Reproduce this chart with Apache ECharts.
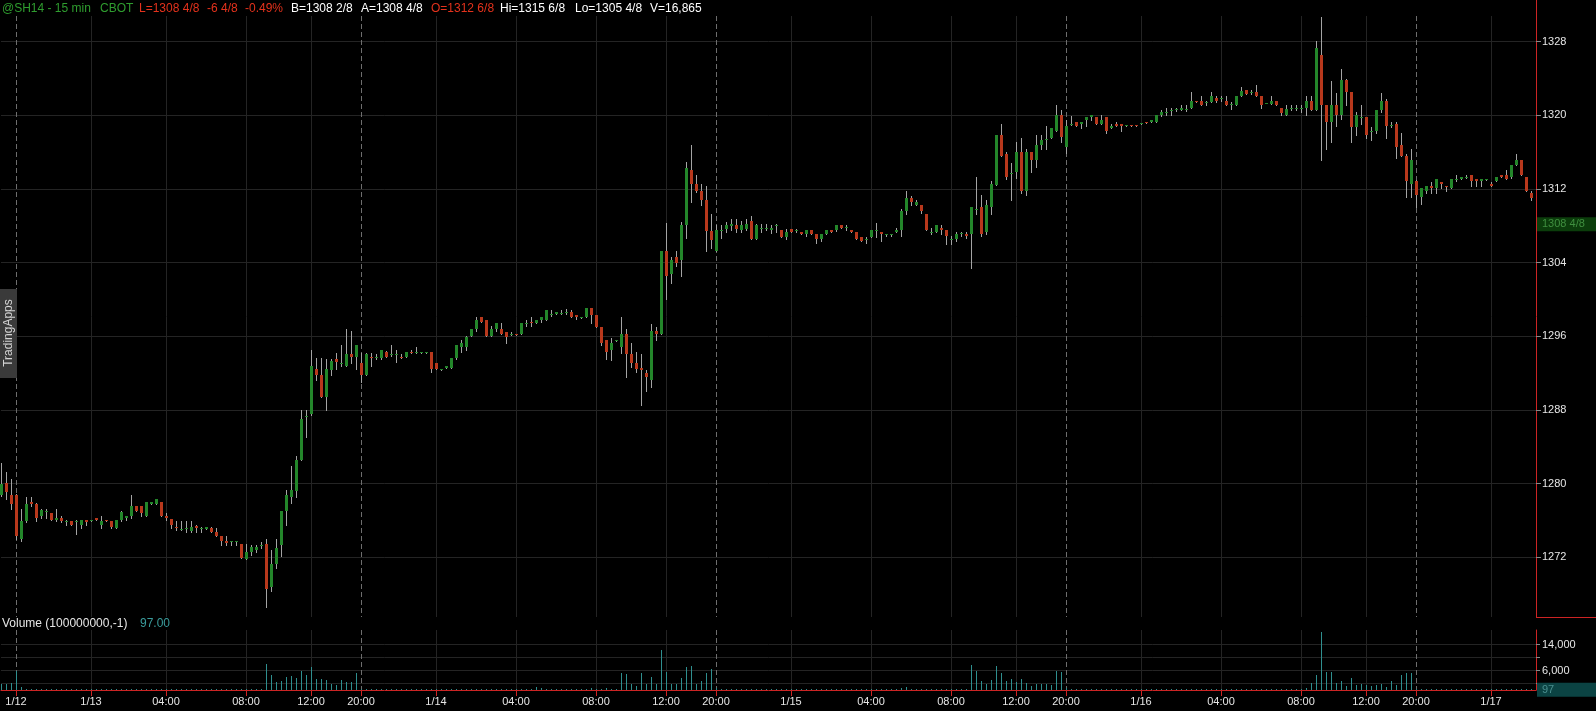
<!DOCTYPE html>
<html><head><meta charset="utf-8">
<script src="https://cdn.jsdelivr.net/npm/echarts@6/dist/echarts.min.js"></script>
<style>html,body{margin:0;padding:0;background:#000;overflow:hidden}#c{width:1596px;height:711px}</style>
</head><body><div id="c"></div>
<script>
// ---- data: 15-min bars, rows are [open, high, low, close] ----
const ohlc = [
[1278.8,1282.2,1278.7,1280.0],[1280.1,1281.3,1278.3,1279.1],[1278.8,1280.5,1277.3,1277.8],[1278.8,1278.9,1274.0,1274.3],[1274.0,1277.3,1273.8,1275.9],
[1275.9,1278.6,1275.8,1277.8],[1278.0,1278.6,1277.6,1277.8],[1277.8,1277.9,1275.9,1276.3],[1276.5,1277.3,1276.3,1277.1],[1276.9,1277.3,1276.3,1277.0],
[1276.8,1276.8,1276.1,1276.1],[1276.1,1277.3,1276.0,1276.3],[1276.3,1276.5,1275.8,1275.9],[1275.85,1276.1,1275.5,1275.9],[1275.9,1275.9,1275.5,1275.5],
[1275.85,1276.1,1274.5,1275.9],[1275.5,1276.1,1275.2,1276.1],[1276.1,1276.1,1275.5,1275.8],[1276.0,1276.1,1275.9,1276.1],[1276.3,1276.3,1276.1,1276.1],
[1275.5,1276.5,1275.2,1275.9],[1276.1,1276.1,1275.9,1275.9],[1275.9,1275.9,1275.2,1275.3],[1275.2,1276.1,1275.2,1276.1],[1276.1,1277.0,1275.9,1276.9],
[1276.3,1276.5,1276.1,1276.5],[1276.5,1278.8,1276.3,1277.6],[1277.6,1277.6,1277.0,1277.0],[1277.6,1277.6,1276.5,1276.8],[1276.5,1278.0,1276.5,1278.0],
[1277.8,1278.0,1277.8,1278.0],[1277.8,1278.3,1277.8,1278.3],[1278.0,1278.0,1276.5,1276.5],[1276.5,1276.8,1276.1,1276.25],[1276.2,1276.2,1275.2,1275.5],
[1275.35,1275.9,1275.0,1275.2],[1275.05,1275.9,1275.0,1275.1],[1275.1,1275.9,1274.8,1275.2],[1274.9,1275.9,1274.8,1275.3],[1275.4,1275.5,1274.8,1275.2],
[1275.15,1275.3,1274.8,1275.2],[1275.1,1275.3,1275.1,1275.3],[1275.2,1275.35,1274.8,1274.8],[1274.8,1275.2,1274.3,1274.3],[1274.3,1274.3,1273.35,1273.8],
[1273.8,1274.3,1273.35,1273.6],[1273.7,1273.8,1273.35,1273.8],[1273.7,1273.8,1273.35,1273.8],[1273.5,1273.5,1271.9,1271.9],[1271.8,1273.5,1271.8,1272.6],
[1272.6,1273.35,1272.3,1273.1],[1272.8,1273.35,1272.6,1273.1],[1273.2,1273.7,1273.0,1273.35],[1273.5,1274.0,1266.6,1268.6],[1268.8,1272.8,1268.3,1271.3],
[1271.3,1274.0,1270.8,1273.0],[1273.35,1277.0,1272.1,1277.0],[1277.0,1279.3,1275.5,1278.8],[1278.6,1281.9,1277.9,1279.3],[1279.2,1283.0,1278.6,1282.6],
[1282.6,1288.0,1282.6,1287.0],[1287.2,1288.0,1285.1,1287.35],[1287.6,1294.5,1287.5,1292.8],[1292.5,1293.7,1291.3,1291.8],[1291.8,1293.7,1289.4,1289.4],
[1289.4,1293.5,1288.0,1292.5],[1292.4,1293.5,1291.8,1293.3],[1293.5,1294.2,1292.5,1293.2],[1293.05,1295.1,1292.8,1293.1],[1292.8,1296.8,1292.8,1294.1],
[1294.1,1296.6,1293.1,1293.8],[1293.8,1295.1,1292.5,1295.1],[1293.1,1294.2,1291.1,1291.8],[1291.8,1294.2,1291.8,1294.1],[1293.8,1294.2,1292.8,1293.6],
[1293.6,1294.1,1293.5,1293.8],[1293.7,1294.5,1293.5,1294.5],[1294.3,1294.4,1293.8,1293.8],[1294.05,1295.1,1293.9,1294.1],[1294.0,1294.5,1293.2,1294.1],
[1293.8,1294.1,1293.6,1293.6],[1293.8,1294.3,1293.8,1294.3],[1294.35,1294.5,1294.2,1294.2],[1294.25,1294.8,1294.2,1294.3],[1294.25,1294.3,1294.25,1294.3],
[1294.25,1294.3,1294.25,1294.3],[1294.3,1294.3,1292.1,1292.5],[1293.1,1293.1,1292.5,1292.5],[1292.4,1292.5,1292.3,1292.5],[1292.6,1292.8,1292.6,1292.8],
[1292.6,1293.7,1292.6,1293.7],[1293.7,1295.1,1293.5,1295.1],[1294.8,1295.6,1294.3,1295.3],[1294.8,1296.0,1294.5,1295.9],[1296.0,1296.8,1296.0,1296.8],
[1296.8,1298.1,1296.6,1297.8],[1298.1,1298.1,1297.6,1297.6],[1297.8,1297.8,1296.0,1296.0],[1296.0,1297.1,1296.0,1296.8],[1296.8,1297.4,1296.6,1297.4],
[1296.8,1297.4,1296.3,1296.3],[1296.5,1296.5,1295.3,1295.9],[1296.2,1296.5,1296.15,1296.3],[1296.3,1296.3,1296.1,1296.1],[1296.3,1297.4,1296.3,1297.4],
[1297.35,1297.8,1297.1,1297.4],[1297.6,1298.1,1297.1,1297.4],[1297.4,1297.8,1297.4,1297.8],[1297.8,1298.1,1297.6,1298.1],[1297.8,1298.9,1297.8,1298.9],
[1298.4,1298.9,1298.2,1298.45],[1298.4,1298.6,1298.4,1298.6],[1298.45,1298.9,1298.4,1298.5],[1298.55,1299.0,1298.4,1298.6],[1298.6,1298.9,1298.1,1298.1],
[1298.3,1298.3,1297.85,1298.1],[1298.1,1298.15,1298.0,1298.15],[1298.1,1299.05,1298.1,1299.05],[1299.05,1299.05,1297.4,1298.3],[1298.3,1298.3,1297.05,1297.05],
[1297.05,1297.05,1295.1,1295.25],[1295.6,1295.6,1293.5,1294.35],[1294.5,1295.8,1293.4,1295.3],[1295.55,1295.6,1295.5,1295.6],[1294.9,1298.1,1294.2,1296.25],
[1296.25,1296.8,1291.6,1294.1],[1294.1,1295.25,1292.7,1293.1],[1293.1,1294.35,1292.1,1292.5],[1292.6,1294.1,1288.55,1292.35],[1292.05,1292.35,1290.1,1291.55],
[1291.25,1297.35,1290.5,1296.6],[1296.6,1297.05,1295.6,1296.25],[1296.25,1305.3,1296.25,1305.3],[1305.3,1308.3,1300.1,1302.55],[1302.8,1304.65,1301.8,1304.3],
[1304.65,1305.3,1303.6,1304.0],[1304.3,1308.4,1302.55,1308.1],[1308.1,1314.9,1306.65,1314.25],[1314.1,1316.8,1310.6,1312.55],[1312.55,1313.5,1311.7,1311.8],
[1311.8,1312.55,1310.3,1310.8],[1310.8,1312.3,1305.3,1307.4],[1307.4,1309.3,1305.6,1306.5],[1305.3,1308.1,1305.3,1307.55],[1307.55,1308.1,1306.65,1307.6],
[1307.7,1308.45,1307.35,1308.1],[1308.0,1308.8,1307.55,1308.25],[1308.1,1308.8,1307.35,1307.7],[1307.55,1308.55,1307.35,1308.1],[1307.7,1308.8,1307.55,1308.25],
[1308.55,1309.05,1306.6,1306.6],[1306.6,1308.25,1306.6,1308.1],[1307.7,1308.25,1307.35,1307.75],[1307.7,1308.25,1307.55,1307.75],[1307.6,1308.1,1307.2,1307.8],
[1308.05,1308.25,1307.35,1308.1],[1307.55,1307.55,1306.8,1306.8],[1306.8,1307.7,1306.6,1307.35],[1307.7,1307.7,1307.35,1307.35],[1307.5,1307.7,1307.35,1307.55],
[1307.3,1307.3,1307.15,1307.15],[1307.1,1307.55,1306.85,1307.55],[1307.55,1307.55,1307.1,1307.1],[1307.1,1307.1,1306.1,1306.6],[1306.6,1307.1,1306.4,1307.1],
[1307.1,1307.55,1307.1,1307.55],[1307.55,1307.55,1307.35,1307.35],[1307.55,1308.1,1307.4,1308.1],[1308.1,1308.1,1307.8,1307.8],[1307.8,1308.1,1307.55,1307.85],
[1307.55,1307.55,1307.35,1307.35],[1307.35,1307.35,1306.6,1306.6],[1306.8,1306.8,1306.4,1306.4],[1306.5,1306.8,1306.1,1306.55],[1306.8,1307.55,1306.8,1307.55],
[1307.45,1308.3,1306.8,1307.5],[1307.35,1307.35,1306.4,1307.1],[1307.05,1307.1,1306.85,1307.1],[1307.05,1307.1,1306.85,1307.1],[1307.35,1307.8,1307.35,1307.55],
[1307.55,1309.8,1306.85,1309.66],[1309.66,1311.8,1309.3,1311.0],[1311.0,1311.25,1310.3,1310.6],[1310.3,1310.8,1310.3,1310.6],[1310.3,1310.3,1309.4,1309.66],
[1309.3,1309.3,1307.55,1307.55],[1307.25,1307.8,1307.1,1307.3],[1307.3,1308.1,1307.3,1308.1],[1307.8,1308.1,1307.1,1307.55],[1307.55,1307.55,1306.0,1306.85],
[1306.5,1306.85,1306.0,1306.55],[1306.55,1307.35,1306.4,1307.1],[1307.2,1307.3,1306.85,1307.25],[1307.1,1307.35,1306.65,1306.85],[1307.1,1310.0,1303.4,1310.0],
[1309.75,1313.3,1309.3,1309.8],[1310.0,1311.35,1306.85,1307.1],[1307.35,1310.8,1307.1,1310.25],[1310.1,1312.9,1309.3,1312.55],[1312.4,1317.87,1312.4,1317.87],
[1317.87,1319.07,1315.6,1315.6],[1315.8,1316.05,1313.05,1313.3],[1313.65,1314.8,1310.8,1313.7],[1313.9,1317.15,1313.2,1316.05],[1316.05,1317.5,1311.6,1311.8],
[1311.8,1316.3,1311.35,1316.05],[1316.05,1316.05,1313.9,1315.1],[1315.1,1317.87,1314.4,1316.8],[1316.78,1317.87,1316.4,1317.33],[1317.4,1318.85,1316.4,1317.45],
[1317.5,1318.6,1317.5,1318.6],[1318.34,1321.1,1318.34,1320.04],[1320.04,1320.6,1317.15,1317.6],[1316.6,1319.5,1315.95,1318.85],[1319.05,1319.9,1319.0,1319.1],
[1319.3,1319.3,1318.85,1318.85],[1319.1,1319.3,1318.6,1319.3],[1319.55,1319.8,1318.85,1319.8],[1319.8,1320.05,1319.55,1320.05],[1319.8,1319.8,1319.05,1319.05],
[1319.05,1320.05,1319.05,1319.55],[1319.8,1319.8,1318.1,1318.34],[1318.6,1319.05,1318.6,1318.85],[1319.05,1319.3,1318.85,1318.85],[1319.05,1319.05,1318.35,1318.85],
[1318.9,1318.95,1318.9,1318.95],[1318.95,1318.95,1318.9,1318.9],[1318.95,1318.95,1318.9,1318.9],[1319.05,1319.2,1319.05,1319.2],[1319.3,1319.3,1319.15,1319.15],
[1319.3,1319.55,1319.3,1319.55],[1319.3,1320.05,1319.3,1320.05],[1320.05,1320.6,1319.9,1320.4],[1320.3,1320.75,1320.05,1320.35],[1320.55,1320.75,1320.05,1320.6],
[1320.6,1320.85,1320.5,1320.65],[1320.6,1321.1,1320.6,1320.85],[1320.6,1321.1,1320.5,1320.65],[1320.85,1322.5,1320.85,1321.55],[1321.6,1321.6,1321.4,1321.4],
[1321.6,1322.1,1321.1,1321.1],[1321.35,1321.6,1321.1,1321.4],[1321.4,1322.5,1321.4,1322.1],[1321.85,1322.1,1321.4,1321.6],[1321.8,1322.1,1321.6,1321.85],
[1321.6,1322.1,1321.1,1321.1],[1321.2,1321.4,1320.65,1321.25],[1321.1,1322.1,1321.1,1322.1],[1322.1,1323.05,1322.1,1322.6],[1322.8,1322.8,1322.3,1322.3],
[1322.5,1322.8,1322.3,1322.55],[1322.55,1323.3,1322.1,1322.1],[1322.1,1322.1,1320.85,1321.1],[1321.3,1321.35,1321.3,1321.35],[1321.2,1322.1,1321.2,1321.6],
[1321.6,1321.6,1321.1,1321.1],[1320.85,1320.85,1320.05,1320.3],[1320.05,1321.1,1320.05,1320.65],[1320.7,1321.1,1320.58,1320.75],[1320.7,1321.1,1320.6,1320.75],
[1320.7,1321.1,1320.4,1320.75],[1320.84,1322.1,1320.04,1321.56],[1321.56,1322.1,1320.6,1320.6],[1320.58,1328.08,1320.58,1327.35],[1326.56,1330.65,1315.1,1321.1],
[1321.1,1321.1,1316.4,1319.3],[1319.3,1323.7,1317.15,1321.1],[1321.1,1322.4,1318.85,1320.04],[1320.04,1325.0,1319.6,1323.84],[1323.84,1324.0,1321.1,1322.57],
[1322.57,1322.57,1317.15,1318.7],[1318.7,1320.4,1317.9,1320.04],[1319.8,1321.1,1319.1,1319.85],[1319.86,1319.86,1317.5,1317.9],[1318.2,1318.7,1317.3,1318.25],
[1318.34,1320.58,1318.1,1320.58],[1320.6,1322.4,1320.4,1321.6],[1321.6,1321.75,1317.5,1318.85],[1318.95,1319.3,1318.7,1319.0],[1319.06,1319.3,1315.4,1316.6],
[1316.8,1318.05,1315.6,1315.6],[1315.6,1315.85,1311.1,1312.9],[1312.6,1316.3,1311.1,1315.1],[1312.9,1313.0,1310.1,1311.35],[1311.1,1312.1,1310.4,1312.1],
[1311.8,1312.3,1311.6,1312.3],[1312.3,1312.8,1311.6,1312.1],[1312.1,1313.05,1311.6,1313.05],[1312.8,1312.8,1312.1,1312.55],[1312.3,1312.3,1311.8,1312.2],
[1312.1,1313.05,1312.1,1313.05],[1313.0,1313.5,1312.9,1313.05],[1313.1,1313.35,1313.1,1313.35],[1313.3,1313.5,1313.15,1313.35],[1313.5,1313.5,1312.3,1312.9],
[1313.05,1313.05,1312.3,1312.9],[1312.9,1313.05,1312.3,1313.05],[1313.0,1313.05,1313.0,1313.05],[1312.6,1312.8,1312.3,1312.3],[1312.9,1313.3,1312.9,1313.3],
[1313.5,1313.5,1313.35,1313.35],[1313.5,1314.05,1313.05,1313.05],[1313.35,1314.6,1313.15,1314.6],[1314.6,1315.8,1314.6,1315.1],[1315.1,1315.1,1313.5,1313.5],
[1313.35,1313.35,1311.8,1311.8],[1311.6,1311.8,1310.8,1311.0]
];
const volume = [
2000,1800,2200,6000,800,400,300,200,300,250, 200,300,250,200,300,200,250,300,200,250,
300,200,250,200,350,200,400,250,300,350, 200,250,300,350,250,200,300,250,200,300,
250,200,300,250,350,300,200,250,400,350, 300,250,350,8000,4600,2450,2750,4000,4200,3550,
5700,4500,7050,3400,3400,3000,1850,1650,3100,2450, 2550,5200,400,300,250,200,300,250,200,300,
250,200,250,200,200,250,350,300,250,200, 300,350,300,250,350,300,250,300,250,200,
300,250,200,250,300,250,300,800,700,350, 250,200,250,200,300,250,200,300,600,400,
450,600,400,350,5300,4900,1950,1250,5300,1950, 4100,1950,12300,5650,1950,1950,3600,7100,7400,1950,
2750,5300,6450,500,300,250,300,250,200,300, 350,300,200,250,200,250,300,250,200,250,
200,250,200,300,250,200,250,300,250,200, 250,300,250,200,300,250,250,200,200,250,
600,900,350,250,300,400,250,300,250,350, 300,250,200,300,7700,5950,2750,1950,3100,7400,
5200,2750,3300,2450,3400,2150,1250,1850,1850,1850, 1450,5850,5650,700,300,250,200,250,300,250,
200,300,200,250,200,200,150,150,200,150, 200,300,250,200,250,200,250,200,350,200,
250,200,300,200,250,250,200,300,300,250, 200,300,300,200,250,250,300,300,250,200,
450,500,2150,4600,17850,5650,5650,2250,2750,1250, 3700,1650,1950,1650,1250,1450,1950,1000,2750,1650,
4500,5100,5300,400,300,250,250,300,200,200, 300,200,250,200,300,250,200,200,250,200,
250,300,200,350,400,450,300
];
const tickIndex = [3,18,33,49,62,72,87,103,119,133,143,158,174,190,203,213,228,244,260,273,283,298];
const tickText  = ['1/12','1/13','04:00','08:00','12:00','20:00','1/14','04:00','08:00','12:00','20:00','1/15','04:00','08:00','12:00','20:00','1/16','04:00','08:00','12:00','20:00','1/17'];
const sessionStart = [3,72,143,213,283];
const priceTicks = [1272,1280,1288,1296,1304,1312,1320,1328];
const volumeTicks = [2000,6000,10000,14000];
const volumeLabelTicks = [6000,14000];
const lastPrice = 1308.5, lastPriceText = '1308 4/8';
const lastVolume = 97, lastVolumeText = '97';
const header = [
  ['@SH14 - 15 min', 2, '#2f9d2f'], ['CBOT', 100, '#2f9d2f'], ['L=1308 4/8', 139, '#e4321c'], ['-6 4/8', 207, '#e4321c'],
  ['-0.49%', 245, '#e4321c'], ['B=1308 2/8', 291, '#ffffff'], ['A=1308 4/8', 361, '#ffffff'], ['O=1312 6/8', 431, '#e4321c'],
  ['Hi=1315 6/8', 500, '#ffffff'], ['Lo=1305 4/8', 575, '#ffffff'], ['V=16,865', 650, '#ffffff']
];

// ---- chart ----
const GREEN = '#23862a', RED = '#b8381c', WICK = '#a4a4a4', GRID = '#242424', AXIS = '#cc2424', FONT = 'Liberation Sans, Arial, sans-serif';
const cats = ohlc.map((_, i) => String(i)).concat([String(ohlc.length)]);
const tickSet = new Set(tickIndex);
const tickMap = {}; tickIndex.forEach((t, k) => tickMap[t] = tickText[k]);
const sessSet = new Set(sessionStart);

function renderCandle(params, api) {
  const i = api.value(0), o = api.value(1), c = api.value(2), l = api.value(3), h = api.value(4);
  const pO = api.coord([i, o]), pC = api.coord([i, c]), pL = api.coord([i, l]), pH = api.coord([i, h]);
  const x = Math.round(pO[0]);
  let top = Math.round(Math.min(pO[1], pC[1])), bot = Math.round(Math.max(pO[1], pC[1]));
  if (bot - top < 1) bot = top + 1;
  return { type: 'group', children: [
    { type: 'line', shape: { x1: x + 0.5, y1: Math.round(pH[1]), x2: x + 0.5, y2: Math.round(pL[1]) + 1 }, style: { stroke: WICK, lineWidth: 1 } },
    { type: 'rect', shape: { x: x - 1, y: top, width: 3, height: bot - top }, style: { fill: c >= o ? GREEN : RED } }
  ]};
}
function renderVolume(params, api) {
  const i = api.value(0), v = api.value(1);
  const p = api.coord([i, v]), b = api.coord([i, 0]);
  const x = Math.round(p[0]);
  const top = Math.round(p[1]), bot = Math.round(b[1]);
  return { type: 'rect', shape: { x: x, y: Math.min(top, bot - 1), width: 1, height: Math.max(1, bot - top) }, style: { fill: '#2f8f8f' } };
}
function renderVLine(params, api) {
  const i = api.value(0), dashed = api.value(1) === 1;
  const p = api.coord([i, api.value(2)]);
  const cs = params.coordSys;
  const x = Math.round(p[0]) + 0.5;
  return { type: 'line', shape: { x1: x, y1: cs.y, x2: x, y2: cs.y + cs.height },
    style: { stroke: dashed ? '#6e6e6e' : GRID, lineWidth: 1, lineDash: dashed ? [5, 3] : null } };
}

const chart = echarts.init(document.getElementById('c'), null, { renderer: 'canvas' });
const option = {
  backgroundColor: '#000',
  animation: false,
  grid: [
    { left: 1, right: 60, top: 16, bottom: 94 },
    { left: 1, right: 60, top: 630, bottom: 21 }
  ],
  xAxis: [
    { type: 'category', gridIndex: 0, data: cats, boundaryGap: false, show: false },
    { type: 'category', gridIndex: 1, data: cats, boundaryGap: false,
      axisLine: { lineStyle: { color: AXIS, width: 1 } },
      axisTick: { show: true, length: 6, interval: (i) => tickSet.has(i), lineStyle: { color: AXIS } },
      axisLabel: { interval: (i) => tickSet.has(i), formatter: (v, i) => tickMap[i] || '', color: '#e6e6e6', fontSize: 11, fontFamily: FONT, margin: 6 },
      splitLine: { show: false } }
  ],
  yAxis: [
    { type: 'value', gridIndex: 0, position: 'right', min: 1265.528, max: 1330.791, scale: true,
      axisLine: { show: true, lineStyle: { color: AXIS } },
      axisTick: { show: true, length: 5, customValues: priceTicks, lineStyle: { color: '#8a8a8a' } },
      axisLabel: { customValues: priceTicks, formatter: (v) => String(v), color: '#e6e6e6', fontSize: 11, fontFamily: FONT, margin: 6 },
      splitLine: { show: true, lineStyle: { color: GRID } } },
    { type: 'value', gridIndex: 1, position: 'right', min: 0, max: 18462,
      axisLine: { show: true, lineStyle: { color: AXIS } },
      axisTick: { show: true, length: 4, customValues: volumeTicks, lineStyle: { color: '#8a8a8a' } },
      axisLabel: { customValues: volumeLabelTicks, formatter: (v) => v.toLocaleString('en-US'), color: '#e6e6e6', fontSize: 11, fontFamily: FONT, margin: 6 },
      splitLine: { show: true, lineStyle: { color: GRID } } }
  ],
  series: [
    { type: 'custom', name: 'vgrid', xAxisIndex: 0, yAxisIndex: 0, z: 1, silent: true, clip: false,
      renderItem: renderVLine, encode: { x: 0 },
      data: tickIndex.map(i => [i, sessSet.has(i) ? 1 : 0, 1300]) },
    { type: 'custom', name: 'vgrid2', xAxisIndex: 1, yAxisIndex: 1, z: 1, silent: true, clip: false,
      renderItem: renderVLine, encode: { x: 0 },
      data: tickIndex.map(i => [i, sessSet.has(i) ? 1 : 0, 0]) },
    { type: 'custom', name: 'price', xAxisIndex: 0, yAxisIndex: 0, z: 3, silent: true,
      renderItem: renderCandle, encode: { x: 0, y: [1, 2, 3, 4] },
      data: ohlc.map((r, i) => [i, r[0], r[3], r[2], r[1]]) },
    { type: 'custom', name: 'volume', xAxisIndex: 1, yAxisIndex: 1, z: 3, silent: true,
      renderItem: renderVolume, encode: { x: 0, y: 1 },
      data: volume.map((v, i) => [i, v]) },
    { type: 'line', name: 'lastPriceMarker', xAxisIndex: 0, yAxisIndex: 0, data: ohlc.map(r => r[3]), symbol: 'none', silent: true,
      lineStyle: { opacity: 0 }, z: 4,
      markLine: { silent: true, symbol: 'none', animation: false, lineStyle: { color: 'rgba(0,0,0,0)', width: 0 },
        label: { show: true, position: 'end', formatter: lastPriceText, color: '#3f8f3f', backgroundColor: '#0b3d0b', padding: [2, 20, 1, 5], distance: 1, fontSize: 11, fontFamily: FONT, offset: [0, 3] },
        data: [{ yAxis: lastPrice }] } },
    { type: 'line', name: 'lastVolMarker', xAxisIndex: 1, yAxisIndex: 1, data: volume, symbol: 'none', silent: true,
      lineStyle: { opacity: 0 }, z: 4,
      markLine: { silent: true, symbol: 'none', animation: false, lineStyle: { color: 'rgba(0,0,0,0)', width: 0 },
        label: { show: true, position: 'end', formatter: lastVolumeText, color: '#4a8e8e', backgroundColor: '#0b4343', padding: [2, 44, 1, 5], distance: 1, fontSize: 11, fontFamily: FONT },
        data: [{ yAxis: lastVolume }] } }
  ],
  graphic: [
    ...header.map(h => ({ type: 'text', left: h[1], top: 3, z: 10, style: { text: h[0], fill: h[2], font: '12px ' + FONT } })),
    { type: 'text', left: 2, top: 618, z: 10, style: { text: 'Volume (100000000,-1)', fill: '#e6e6e6', font: '12px ' + FONT } },
    { type: 'text', left: 140, top: 618, z: 10, style: { text: '97.00', fill: '#3a9c9c', font: '12px ' + FONT } },
    { type: 'line', z: 10, shape: { x1: 1536.5, y1: 0, x2: 1536.5, y2: 16 }, style: { stroke: AXIS, lineWidth: 1 } },
    { type: 'line', z: 10, shape: { x1: 1536, y1: 617.5, x2: 1596, y2: 617.5 }, style: { stroke: AXIS, lineWidth: 1 } },
    { type: 'rect', z: 10, shape: { x: 0, y: 289, width: 17, height: 89 }, style: { fill: '#3a3a3a' } },
    { type: 'text', z: 11, x: 9, y: 333, rotation: Math.PI / 2, style: { text: 'TradingApps', fill: '#d4d4d4', font: '12px ' + FONT, align: 'center', verticalAlign: 'middle' } }
  ]
};
chart.setOption(option);
</script>
</body></html>
